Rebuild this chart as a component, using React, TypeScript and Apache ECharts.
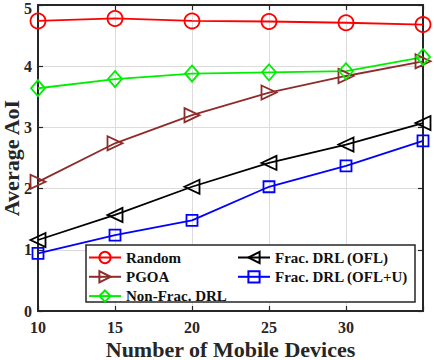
import React, { useEffect, useRef } from "react";
import * as echarts from "echarts";

const devices = [10, 15, 20, 25, 30, 35];
const randomAoI = [4.74, 4.78, 4.74, 4.73, 4.71, 4.68];
const pgoaAoI = [2.11, 2.74, 3.2, 3.57, 3.84, 4.08];
const nonFracAoI = [3.64, 3.79, 3.88, 3.9, 3.92, 4.15];
const fracOflAoI = [1.16, 1.57, 2.03, 2.42, 2.72, 3.07];
const fracOflUAoI = [0.94, 1.24, 1.48, 2.03, 2.37, 2.78];
const seriesNames = ["Random", "PGOA", "Non-Frac. DRL", "Frac. DRL (OFL)", "Frac. DRL (OFL+U)"];

const FONT = "'Liberation Serif', 'Times New Roman', serif";

export default function App() {
  const ref = useRef<HTMLDivElement>(null);
  useEffect(() => {
    if (!ref.current) return;
    const chart = echarts.init(ref.current, null, { renderer: "svg" });
    const mk = (name: string, vals: number[], color: string, symbol: string, size: any) => ({
      name,
      type: "line",
      data: devices.map((d, i) => [d, vals[i]]),
      color,
      symbol,
      symbolSize: size,
      symbolKeepAspect: true,
      showAllSymbol: true,
      lineStyle: { color, width: 1.8 },
      itemStyle: { color: "rgba(255,255,255,0)", borderColor: color, borderWidth: 1.8 },
      z: 3,
    });
    const triRight = "path://M0,0 L17,8 L0,16 Z";
    const triLeft = "path://M17,0 L0,8 L17,16 Z";
    const axisCommon = {
      type: "value",
      axisLine: { show: true, onZero: false, lineStyle: { color: "#262626", width: 2 } },
      axisTick: { show: true, inside: true, length: 5, lineStyle: { color: "#262626", width: 1.2 } },
    };
    const legendCommon = {
      orient: "vertical",
      top: 250,
      padding: 0,
      itemWidth: 32,
      itemHeight: 14,
      itemGap: 4.3,
      z: 6,
      textStyle: { fontFamily: FONT, fontWeight: "bold", fontSize: 15, lineHeight: 14, color: "#111" },
    };
    const tickFont = { fontFamily: FONT, fontWeight: "bold", fontSize: 16, color: "#262626" };
    chart.setOption({
      animation: false,
      backgroundColor: "#fff",
      grid: { left: 38, right: 11, top: 5, bottom: 49, containLabel: false, outerBoundsMode: "none" },
      xAxis: [
        {
          ...axisCommon,
          position: "bottom",
          min: 10,
          max: 35,
          interval: 5,
          name: "Number of Mobile Devices",
          nameLocation: "middle",
          nameMoveOverlap: false,
          nameGap: 27,
          nameTextStyle: { fontFamily: FONT, fontWeight: "bold", fontSize: 22, color: "#262626" },
          axisLabel: {
            margin: 8,
            ...tickFont,
            formatter: (v: number) => (v === 35 ? "" : String(v)),
          },
          splitLine: { show: true, lineStyle: { color: "#dcdcdc", width: 1 } },
        },
        {
          ...axisCommon,
          position: "top",
          min: 10,
          max: 35,
          interval: 5,
          axisLabel: { show: false },
          splitLine: { show: false },
        },
      ],
      yAxis: [
        {
          ...axisCommon,
          position: "left",
          min: 0,
          max: 5,
          interval: 1,
          name: "Average AoI",
          nameLocation: "middle",
          nameMoveOverlap: false,
          nameGap: 16,
          nameTextStyle: { fontFamily: FONT, fontWeight: "bold", fontSize: 22, color: "#262626" },
          axisLabel: {
            margin: 6,
            ...tickFont,
            formatter: (v: number) => (v === 5 ? "{t|5}" : String(v)),
            rich: { t: { ...tickFont, padding: [6, 0, 0, 0] } },
          },
          splitLine: { show: true, lineStyle: { color: "#dcdcdc", width: 1 } },
        },
        {
          ...axisCommon,
          position: "right",
          min: 0,
          max: 5,
          interval: 1,
          axisLabel: { show: false },
          splitLine: { show: false },
        },
      ],
      graphic: [
        {
          type: "rect",
          z: 5,
          shape: { x: 86, y: 245, width: 329, height: 57 },
          style: { fill: "#fff", stroke: "#262626", lineWidth: 1.5 },
        },
      ],
      legend: [
        { ...legendCommon, left: 88, data: seriesNames.slice(0, 3) },
        { ...legendCommon, left: 237, data: seriesNames.slice(3) },
      ],
      series: [
        mk(seriesNames[0], randomAoI, "#ff0000", "circle", 15),
        mk(seriesNames[1], pgoaAoI, "#8e2b2b", triRight, 15),
        mk(seriesNames[2], nonFracAoI, "#00ee00", "diamond", [14, 16]),
        mk(seriesNames[3], fracOflAoI, "#000000", triLeft, 15),
        mk(seriesNames[4], fracOflUAoI, "#0000ff", "rect", 11),
      ],
    });
    return () => chart.dispose();
  }, []);
  return <div ref={ref} style={{ width: 434, height: 360, position: "absolute", left: 0, top: 0 }} />;
}
